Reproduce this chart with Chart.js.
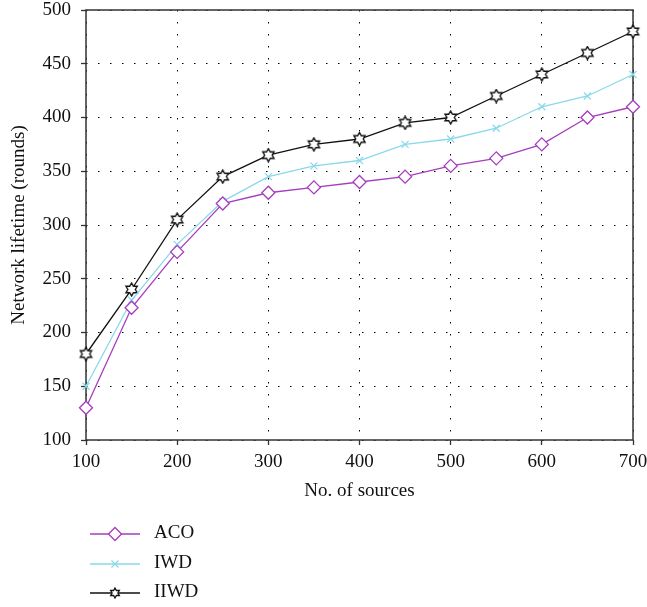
<!DOCTYPE html>
<html>
<head>
<meta charset="utf-8">
<script src="https://cdn.jsdelivr.net/npm/chart.js@4.4.0/dist/chart.umd.min.js"></script>
<style>
html,body{margin:0;padding:0;background:#fff;}
canvas{display:block;}
</style>
</head>
<body>
<canvas id="lifetimeChart" width="647" height="607"></canvas>
<script>
// values
const sources = [100, 150, 200, 250, 300, 350, 400, 450, 500, 550, 600, 650, 700];
const acoValues = [130, 223, 275, 320, 330, 335, 340, 345, 355, 362, 375, 400, 410];
const iwdValues = [150, 230, 282, 322, 345, 355, 360, 375, 380, 390, 410, 420, 440];
const iiwdValues = [180, 240, 305, 345, 365, 375, 380, 395, 400, 420, 440, 460, 480];
const seriesNames = ['ACO', 'IWD', 'IIWD'];

const purple = '#a63cbf';
const lightBlue = '#8ad8ea';
const black = '#111111';
const serif = "'Liberation Serif', 'DejaVu Serif', serif";

// hexagram outline marker
function makeStar(size, lw) {
  const c = document.createElement('canvas');
  c.width = size; c.height = size;
  const g = c.getContext('2d');
  const cx = size / 2, cy = size / 2, R = size / 2 - 1, r = R / Math.sqrt(3);
  g.lineWidth = lw;
  g.strokeStyle = black;
  g.fillStyle = '#fff';
  g.lineJoin = 'miter';
  g.beginPath();
  for (let k = 0; k < 12; k++) {
    const a = -Math.PI / 2 + k * Math.PI / 6;
    const rad = k % 2 ? r : R;
    const px = cx + rad * Math.cos(a), py = cy + rad * Math.sin(a);
    if (k) g.lineTo(px, py); else g.moveTo(px, py);
  }
  g.closePath();
  g.fill();
  g.stroke();
  return c;
}
const plotStar = makeStar(15, 1.4);
const legendStar = makeStar(12, 1.3);

const toPoints = vals => sources.map((x, i) => ({x: x, y: vals[i]}));

const boxPlugin = {
  id: 'box',
  beforeDatasetsDraw(chart) {
    const {ctx, chartArea: a} = chart;
    ctx.save();
    ctx.strokeStyle = '#333';
    ctx.lineWidth = 1.5;
    ctx.strokeRect(a.left, a.top, a.right - a.left, a.bottom - a.top);
    ctx.restore();
  }
};

function drawMarker(ctx, ds, x, y) {
  ctx.save();
  ctx.strokeStyle = ds.borderColor;
  ctx.lineWidth = ds.pointBorderWidth;
  ctx.fillStyle = '#fff';
  if (ds.pointStyle === 'rectRot') {
    const r = ds.pointRadius;
    ctx.beginPath();
    ctx.moveTo(x - r, y); ctx.lineTo(x, y - r); ctx.lineTo(x + r, y); ctx.lineTo(x, y + r);
    ctx.closePath(); ctx.fill(); ctx.stroke();
  } else if (ds.pointStyle === 'crossRot') {
    const r = 3.5;
    ctx.beginPath();
    ctx.moveTo(x - r, y - r); ctx.lineTo(x + r, y + r);
    ctx.moveTo(x + r, y - r); ctx.lineTo(x - r, y + r);
    ctx.stroke();
  } else {
    ctx.drawImage(legendStar, x - legendStar.width / 2, y - legendStar.height / 2);
  }
  ctx.restore();
}

const legendPlugin = {
  id: 'bottomLegend',
  afterDraw(chart) {
    const ctx = chart.ctx;
    const rows = [534, 564, 593];
    chart.data.datasets.forEach((ds, i) => {
      const y = rows[i];
      ctx.save();
      ctx.strokeStyle = ds.borderColor;
      ctx.lineWidth = 1.5;
      ctx.beginPath();
      ctx.moveTo(90, y); ctx.lineTo(140, y);
      ctx.stroke();
      ctx.restore();
      drawMarker(ctx, ds, 115, y);
      ctx.save();
      ctx.fillStyle = black;
      ctx.font = '19px ' + serif;
      ctx.textBaseline = 'middle';
      ctx.fillText(ds.label, 154, y - 1);
      ctx.restore();
    });
  }
};

const gridOpts = {
  color: '#000',
  lineWidth: 1,
  tickLength: 5,
  tickColor: '#333',
  tickWidth: 1.3,
  tickBorderDash: []
};

new Chart(document.getElementById('lifetimeChart'), {
  type: 'line',
  data: {
    datasets: [
      {
        label: seriesNames[0],
        data: toPoints(acoValues),
        borderColor: purple,
        backgroundColor: '#fff',
        borderWidth: 1.3,
        pointStyle: 'rectRot',
        pointRadius: 6.5,
        pointBorderWidth: 1.3,
        pointBackgroundColor: '#fff',
        clip: 10
      },
      {
        label: seriesNames[1],
        data: toPoints(iwdValues),
        borderColor: lightBlue,
        backgroundColor: lightBlue,
        borderWidth: 1.3,
        pointStyle: 'crossRot',
        pointRadius: 5,
        pointBorderWidth: 1.2,
        clip: 10
      },
      {
        label: seriesNames[2],
        data: toPoints(iiwdValues),
        borderColor: black,
        backgroundColor: '#fff',
        borderWidth: 1.3,
        pointStyle: plotStar,
        pointRadius: 7,
        pointBorderWidth: 1.3,
        clip: 10
      }
    ]
  },
  options: {
    responsive: false,
    animation: false,
    layout: {padding: {top: 10, right: 14, bottom: 97, left: 0}},
    plugins: {
      legend: {display: false},
      tooltip: {enabled: false}
    },
    scales: {
      x: {
        type: 'linear',
        min: 100,
        max: 700,
        afterFit: s => { s.height = 70; s.paddingLeft = 0; s.paddingRight = 0; },
        ticks: {stepSize: 100, color: black, padding: 6, font: {family: serif, size: 19}},
        grid: gridOpts,
        border: {display: false, dash: [1.5, 10.5]},
        title: {display: true, text: 'No. of sources', color: black, padding: {top: 0, bottom: 8}, font: {family: serif, size: 19}}
      },
      y: {
        min: 100,
        max: 500,
        afterFit: s => { s.width = 86; s.paddingTop = 0; s.paddingBottom = 0; },
        ticks: {stepSize: 50, color: black, padding: 10, font: {family: serif, size: 19}},
        grid: gridOpts,
        border: {display: false, dash: [1.5, 10.5]},
        title: {display: true, text: 'Network lifetime (rounds)', color: black, padding: {top: 8, bottom: 0}, font: {family: serif, size: 19}}
      }
    }
  },
  plugins: [boxPlugin, legendPlugin]
});
</script>
</body>
</html>
